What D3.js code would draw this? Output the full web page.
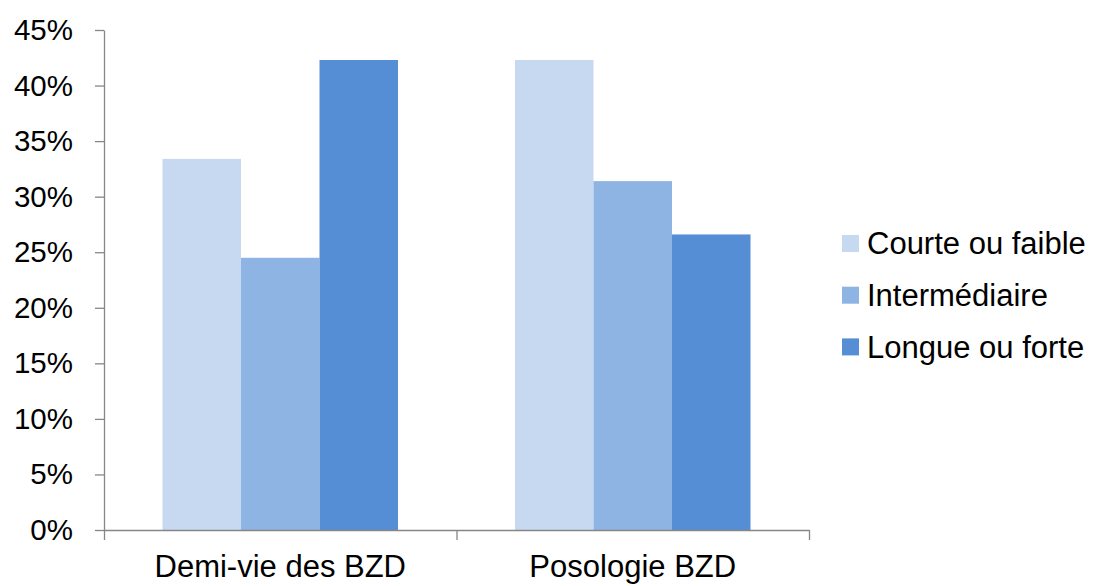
<!DOCTYPE html>
<html>
<head>
<meta charset="utf-8">
<script src="https://cdn.jsdelivr.net/npm/d3@7"></script>
<style>
  html, body { margin: 0; padding: 0; background: #fff; }
  svg { display: block; font-family: "Liberation Sans", Arial, sans-serif; }
</style>
</head>
<body>
<svg id="chart" width="1094" height="586"></svg>
<script>
// Categories, series and values (percent)
const categories = ["Demi-vie des BZD", "Posologie BZD"];
const seriesNames = ["Courte ou faible", "Intermédiaire", "Longue ou forte"];
const courte = [33.4, 42.3];
const intermediaire = [24.5, 31.4];
const longue = [42.3, 26.6];
const yTicks = [0, 5, 10, 15, 20, 25, 30, 35, 40, 45];
const colors = ["#C6D9F1", "#8EB4E3", "#558ED5"];

const seriesValues = [courte, intermediaire, longue];
const data = categories.map((c, i) => ({
  category: c,
  values: seriesNames.map((s, j) => ({ series: s, value: seriesValues[j][i] }))
}));

const svg = d3.select("#chart");
const plot = { left: 104, right: 809, top: 30, bottom: 530 };
const axisColor = "#868686";

const y = d3.scaleLinear().domain([0, 45]).range([plot.bottom, plot.top]);
const x0 = d3.scaleBand().domain(categories).range([plot.left, plot.right]).padding(0);
const x1 = d3.scaleBand().domain(seriesNames).range([0, x0.bandwidth()])
  .paddingInner(0).paddingOuter(0.745);
const color = d3.scaleOrdinal().domain(seriesNames).range(colors);

// Bars
const groups = svg.append("g").selectAll("g")
  .data(data).join("g")
  .attr("transform", d => `translate(${x0(d.category)},0)`);
groups.selectAll("rect")
  .data(d => d.values).join("rect")
  .attr("x", d => x1(d.series))
  .attr("width", x1.bandwidth())
  .attr("y", d => y(d.value))
  .attr("height", d => y(0) - y(d.value))
  .attr("fill", d => color(d.series));

// Y axis
const yAxis = svg.append("g")
  .attr("transform", `translate(${plot.left},0)`)
  .call(d3.axisLeft(y).tickValues(yTicks).tickSize(9).tickSizeOuter(0)
    .tickPadding(22).tickFormat(d => d + "%"));
yAxis.selectAll("path, line").attr("stroke", axisColor).attr("stroke-width", 1.3);
yAxis.selectAll("text").attr("font-size", 29.5).attr("fill", "#000")
  .attr("font-family", "Liberation Sans, Arial, sans-serif");

// X axis: boundary ticks between categories
const xEdge = d3.scaleLinear().domain([0, categories.length]).range([plot.left, plot.right]);
const xAxis = svg.append("g")
  .attr("transform", `translate(0,${plot.bottom})`)
  .call(d3.axisBottom(xEdge).tickValues(d3.range(categories.length + 1))
    .tickSize(10).tickSizeOuter(0).tickFormat(""));
xAxis.selectAll("path, line").attr("stroke", axisColor).attr("stroke-width", 1.3);

// X axis: category labels
const xLabels = svg.append("g")
  .attr("transform", `translate(0,${plot.bottom})`)
  .call(d3.axisBottom(x0).tickSize(0).tickPadding(25));
xLabels.select(".domain").remove();
xLabels.selectAll("text").attr("font-size", 31).attr("fill", "#000")
  .attr("font-family", "Liberation Sans, Arial, sans-serif");

// Legend
const legend = svg.append("g").attr("transform", "translate(842,243.5)");
const rows = legend.selectAll("g").data(seriesNames).join("g")
  .attr("transform", (d, i) => `translate(0,${i * 51.7})`);
rows.append("rect")
  .attr("x", 0).attr("y", -8.5).attr("width", 17).attr("height", 17)
  .attr("fill", d => color(d));
rows.append("text")
  .attr("x", 25).attr("y", 0).attr("dy", "0.35em")
  .attr("font-size", 31).attr("fill", "#000")
  .text(d => d);
</script>
</body>
</html>
